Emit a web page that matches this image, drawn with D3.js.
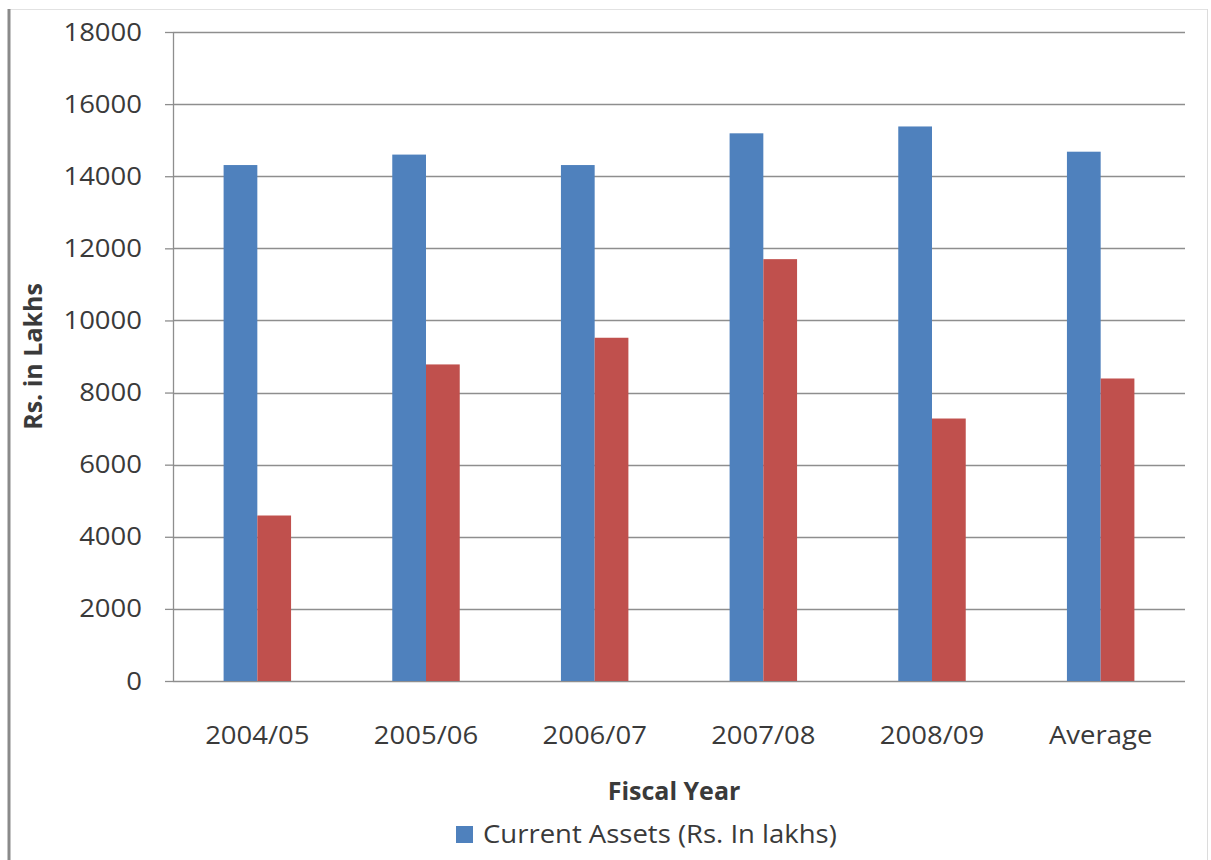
<!DOCTYPE html>
<html>
<head>
<meta charset="utf-8">
<script src="https://cdn.jsdelivr.net/npm/d3@7"></script>
<style>
  html, body { margin: 0; padding: 0; background: #ffffff; }
  svg { display: block; }
  text { font-family: "Open Sans", "Noto Sans", sans-serif; fill: #3a3a3a; }
</style>
</head>
<body>
<svg id="chart" width="1211" height="860"></svg>
<script>
// ---- data ----
const categories = ["2004/05", "2005/06", "2006/07", "2007/08", "2008/09", "Average"];
const currentAssets = [14310, 14600, 14310, 15190, 15380, 14680];
const secondSeries = [4590, 8780, 9520, 11700, 7280, 8390];
const yTickValues = [0, 2000, 4000, 6000, 8000, 10000, 12000, 14000, 16000, 18000];
const xTitle = "Fiscal Year";
const yTitle = "Rs. in Lakhs";
const legendLabel = "Current Assets (Rs. In lakhs)";

// ---- layout ----
const W = 1211, H = 860;
const plot = { left: 173, right: 1185, top: 32, bottom: 681 };
const blue = "#4f81bd", red = "#c0504d", gridColor = "#8e8e8e";

const svg = d3.select("#chart");

// horizontal stretch helper (to mimic the wide original lettering)
function stretch(sel, k) {
  sel.each(function () {
    const x = +(this.getAttribute("x") || 0);
    this.setAttribute("transform", `translate(${x},0) scale(${k},1) translate(${-x},0)`);
  });
}

// outer frame
svg.append("rect").attr("x", 0).attr("y", 0).attr("width", W).attr("height", H).attr("fill", "#ffffff");
svg.append("line").attr("x1", 8).attr("x2", 1207).attr("y1", 9.5).attr("y2", 9.5)
  .attr("stroke", "#e2e2e2").attr("stroke-width", 1);
svg.append("line").attr("x1", 1207.5).attr("x2", 1207.5).attr("y1", 9).attr("y2", H)
  .attr("stroke", "#dcdcdc").attr("stroke-width", 1);
svg.append("line").attr("x1", 9).attr("x2", 9).attr("y1", 9).attr("y2", H)
  .attr("stroke", "#8a8a8a").attr("stroke-width", 3);

// scales
const x = d3.scaleBand().domain(categories).range([plot.left, plot.right]).padding(0);
const y = d3.scaleLinear().domain([0, 18000]).range([plot.bottom, plot.top]);

// gridlines
svg.append("g").selectAll("line").data(yTickValues).join("line")
  .attr("x1", plot.left).attr("x2", plot.right)
  .attr("y1", d => Math.round(y(d)) + 0.5).attr("y2", d => Math.round(y(d)) + 0.5)
  .attr("stroke", gridColor).attr("stroke-width", 1.3);

// bars
const bw = x.bandwidth() * 0.2;
const cx = d => x(d) + x.bandwidth() / 2;
svg.append("g").selectAll("rect").data(categories).join("rect")
  .attr("x", d => cx(d) - bw).attr("width", bw)
  .attr("y", (d, i) => y(currentAssets[i]))
  .attr("height", (d, i) => y(0) - y(currentAssets[i]))
  .attr("fill", blue);
svg.append("g").selectAll("rect").data(categories).join("rect")
  .attr("x", d => cx(d)).attr("width", bw)
  .attr("y", (d, i) => y(secondSeries[i]))
  .attr("height", (d, i) => y(0) - y(secondSeries[i]))
  .attr("fill", red);

// y axis
const yAxis = svg.append("g").attr("transform", `translate(${plot.left},0)`)
  .call(d3.axisLeft(y).tickValues(yTickValues).tickSize(8).tickPadding(23).tickFormat(d3.format("d")));
yAxis.select(".domain").remove();
yAxis.selectAll(".tick line").attr("stroke", gridColor).attr("stroke-width", 1.3);
yAxis.selectAll(".tick text").attr("font-size", 25).attr("fill", "#3a3a3a")
  .style("font-family", '"Open Sans", sans-serif');
stretch(yAxis.selectAll(".tick text"), 1.1);
svg.append("line").attr("x1", plot.left + 0.5).attr("x2", plot.left + 0.5)
  .attr("y1", plot.top).attr("y2", plot.bottom)
  .attr("stroke", gridColor).attr("stroke-width", 1.3);

// x axis
const xAxis = svg.append("g").attr("transform", `translate(0,${plot.bottom})`)
  .call(d3.axisBottom(x).tickSize(0).tickPadding(45));
xAxis.select(".domain").remove();
xAxis.selectAll(".tick text").attr("font-size", 25).attr("fill", "#3a3a3a")
  .style("font-family", '"Open Sans", sans-serif');
stretch(xAxis.selectAll(".tick text"), 1.1);

// axis titles
svg.append("text").attr("x", 674).attr("y", 800)
  .attr("text-anchor", "middle").attr("font-size", 25).attr("font-weight", "bold")
  .attr("fill", "#222").text(xTitle);

svg.append("text")
  .attr("transform", `translate(42,${(plot.top + plot.bottom) / 2}) rotate(-90)`)
  .attr("text-anchor", "middle").attr("font-size", 25).attr("font-weight", "bold")
  .attr("fill", "#222").text(yTitle);

// legend
svg.append("rect").attr("x", 456).attr("y", 826).attr("width", 17).attr("height", 17).attr("fill", blue);
const lg = svg.append("text").attr("x", 483).attr("y", 843)
  .attr("font-size", 25).attr("fill", "#3a3a3a").text(legendLabel);
stretch(lg, 1.1);
</script>
</body>
</html>
